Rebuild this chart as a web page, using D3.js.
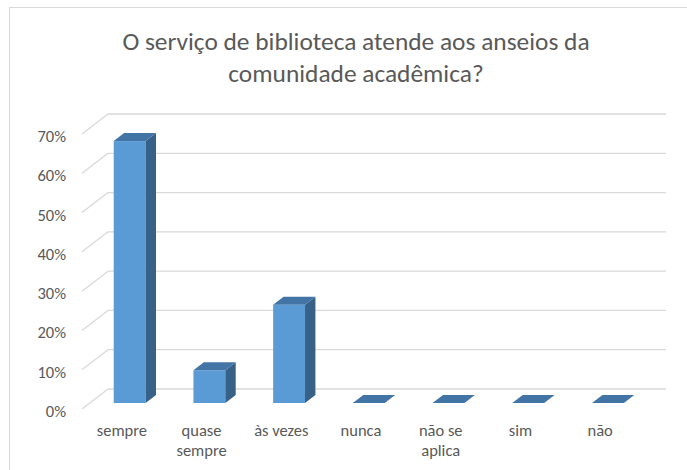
<!DOCTYPE html>
<html>
<head>
<meta charset="utf-8">
<script src="https://cdn.jsdelivr.net/npm/d3@7"></script>
<style>
  body { margin: 0; background: #fff; }
  text { font-family: Calibri, Carlito, Lato, sans-serif; fill: #595959; }
</style>
</head>
<body>
<svg id="chart" width="687" height="470"></svg>
<script>

// data
var categories = [ "sempre", "quase sempre", "às vezes", "nunca", "não se aplica", "sim", "não" ];
var categoryLines = [ [ "sempre" ], [ "quase", "sempre" ], [ "às vezes" ], [ "nunca" ], [ "não se", "aplica" ], [ "sim" ], [ "não" ] ];
var values = [ 0.6667, 0.0833, 0.25, 0, 0, 0, 0 ];
var yTicks = [ 0, 0.1, 0.2, 0.3, 0.4, 0.5, 0.6, 0.7 ];
var titleLines = [ "O serviço de biblioteca atende aos anseios da", "comunidade acadêmica?" ];

var svg = d3.select( "#chart" );

// chart frame
svg.append( "rect" )
  .attr( "x", 9.5 ).attr( "y", 7.5 )
  .attr( "width", 720 ).attr( "height", 480 )
  .attr( "fill", "#fff" )
  .attr( "stroke", "#d9d9d9" );

// back wall + depth vector (oblique 3d)
var depth = { x: -26, y: 20 };
var x = d3.scaleBand()
  .domain( categories )
  .range( [ 108, 666 ] )
  .paddingInner( 0.6 )
  .paddingOuter( 0.3 );
var y = d3.scaleLinear().domain( [ 0, 0.7 ] ).range( [ 389, 114 ] );

// gridlines on back wall and the side
var grid = svg.append( "g" ).attr( "stroke", "#d9d9d9" ).attr( "stroke-width", 1.3 );
grid.selectAll( "line.h" )
  .data( yTicks )
  .enter().append( "line" )
    .attr( "class", "h" )
    .attr( "x1", 108 ).attr( "x2", 666 )
    .attr( "y1", d => y( d ) ).attr( "y2", d => y( d ) );
grid.selectAll( "line.d" )
  .data( yTicks )
  .enter().append( "line" )
    .attr( "class", "d" )
    .attr( "x1", 108 ).attr( "x2", 108 + depth.x )
    .attr( "y1", d => y( d ) ).attr( "y2", d => y( d ) + depth.y );

// tick labels
svg.selectAll( "text.tick" )
  .data( yTicks )
  .enter().append( "text" )
    .attr( "class", "tick" )
    .attr( "x", 66 )
    .attr( "y", d => y( d ) + depth.y + 8 )
    .attr( "text-anchor", "end" )
    .style( "font-size", "16.5px" )
    .text( d3.format( ".0%" ) );

// bars
var front = 0.7, back = 0.3;
var bars = svg.selectAll( "g.bar" )
  .data( categories.map( ( c, i ) => ( { key: c, value: values[ i ] } ) ) )
  .enter().append( "g" )
    .attr( "class", "bar" );

function pts( arr ) { return arr.map( p => p.join( "," ) ).join( " " ); }

bars.each( function( d ) {
  var g = d3.select( this );
  var xl = x( d.key ) + depth.x * front;
  var xr = xl + x.bandwidth();
  var yb = y( 0 ) + depth.y * front;
  var yt = y( d.value ) + depth.y * front;
  var dx = depth.x * ( back - front ), dy = depth.y * ( back - front );

  if( d.value > 0 ) {
    g.append( "rect" )
      .attr( "x", xl ).attr( "y", yt )
      .attr( "width", xr - xl ).attr( "height", yb - yt )
      .attr( "fill", "#5b9bd5" );
    g.append( "polygon" )
      .attr( "points", pts( [ [ xr, yt ], [ xr + dx, yt + dy ], [ xr + dx, yb + dy ], [ xr, yb ] ] ) )
      .attr( "fill", "#386188" );
  }
  g.append( "polygon" )
    .attr( "points", pts( [ [ xl, yt ], [ xr, yt ], [ xr + dx, yt + dy ], [ xl + dx, yt + dy ] ] ) )
    .attr( "fill", "#4374a6" );
} );

// category labels (front plane)
svg.selectAll( "text.cat" )
  .data( categoryLines )
  .enter().append( "text" )
    .attr( "class", "cat" )
    .attr( "text-anchor", "middle" )
    .style( "font-size", "16.5px" )
    .each( function( lines, i ) {
      var cx = x( categories[ i ] ) + x.bandwidth() / 2 + depth.x;
      d3.select( this ).selectAll( "tspan" )
        .data( lines )
        .enter().append( "tspan" )
          .attr( "x", cx )
          .attr( "y", ( l, j ) => 436 + j * 19.5 )
          .text( l => l );
    } );

// title
svg.selectAll( "text.title" )
  .data( titleLines )
  .enter().append( "text" )
    .attr( "class", "title" )
    .attr( "x", 356 )
    .attr( "y", ( d, i ) => 50 + i * 32 )
    .attr( "text-anchor", "middle" )
    .style( "font-size", "25.4px" )
    .style( "font-weight", 300 )
    .text( d => d );

</script>
</body>
</html>
